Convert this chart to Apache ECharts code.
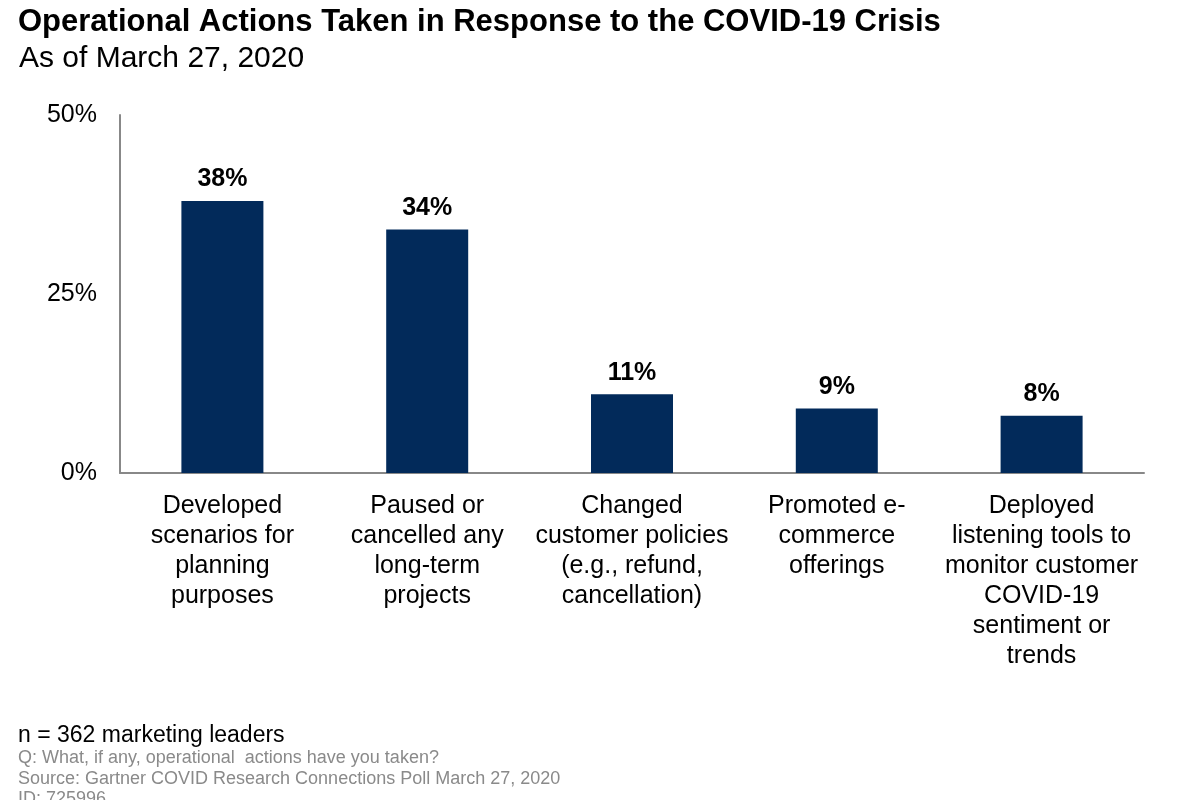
<!DOCTYPE html>
<html><head><meta charset="utf-8">
<script src="https://cdn.jsdelivr.net/npm/echarts@6/dist/echarts.min.js"></script>
<style>html,body{margin:0;padding:0;background:#fff}#c{width:1200px;height:800px}</style>
</head><body><div id="c"></div>
<script>
const categories = [
  "Developed\nscenarios for\nplanning\npurposes",
  "Paused or\ncancelled any\nlong-term\nprojects",
  "Changed\ncustomer policies\n(e.g., refund,\ncancellation)",
  "Promoted e-\ncommerce\nofferings",
  "Deployed\nlistening tools to\nmonitor customer\nCOVID-19\nsentiment or\ntrends"
];
const values = [38, 34, 11, 9, 8];
const yTicks = [0, 25, 50];
const titleText = "Operational Actions Taken in Response to the COVID-19 Crisis";
const subtitleText = "As of March 27, 2020";
const footNote = "n = 362 marketing leaders";
const footLines = ["Q: What, if any, operational  actions have you taken?", "Source: Gartner COVID Research Connections Poll March 27, 2020", "ID: 725996"];

const font = "'Liberation Sans', Arial, sans-serif";
const chart = echarts.init(document.getElementById('c'), null, {renderer: 'canvas'});
chart.setOption({
  backgroundColor: '#fff',
  animation: false,
  title: [
    {text: titleText, left: 13, top: 2, textStyle: {fontFamily: font, fontSize: 31, fontWeight: 'bold', color: '#000'}},
    {text: subtitleText, left: 14, top: 39, textStyle: {fontFamily: font, fontSize: 30, fontWeight: 'normal', color: '#000'}},
    {text: footNote, left: 13, top: 719, textStyle: {fontFamily: font, fontSize: 23, fontWeight: 'normal', color: '#000'}},
    {text: footLines.join('\n'), left: 13, top: 743, textStyle: {fontFamily: font, fontSize: 18, fontWeight: 'normal', color: '#8a8a8a', lineHeight: 20.5}}
  ],
  grid: {left: 120, right: 56, top: 115, bottom: 327, containLabel: false},
  xAxis: {
    type: 'category',
    data: categories,
    axisLine: {lineStyle: {color: '#888', width: 2}},
    axisTick: {show: false},
    axisLabel: {interval: 0, fontFamily: font, fontSize: 25, color: '#000', lineHeight: 30, margin: 18}
  },
  yAxis: {
    type: 'value',
    min: 0, max: 50, interval: 25,
    axisLine: {show: true, lineStyle: {color: '#888', width: 2}},
    axisTick: {show: false},
    splitLine: {show: false},
    axisLabel: {formatter: v => yTicks.includes(v) ? v + '%' : '', fontFamily: font, fontSize: 25, color: '#000', margin: 23}
  },
  series: [{
    type: 'bar',
    data: values,
    barWidth: 82,
    itemStyle: {color: '#022a5a'},
    label: {show: true, position: 'top', distance: 9, formatter: '{c}%', fontFamily: font, fontSize: 25, fontWeight: 'bold', color: '#000'}
  }]
});
</script></body></html>
